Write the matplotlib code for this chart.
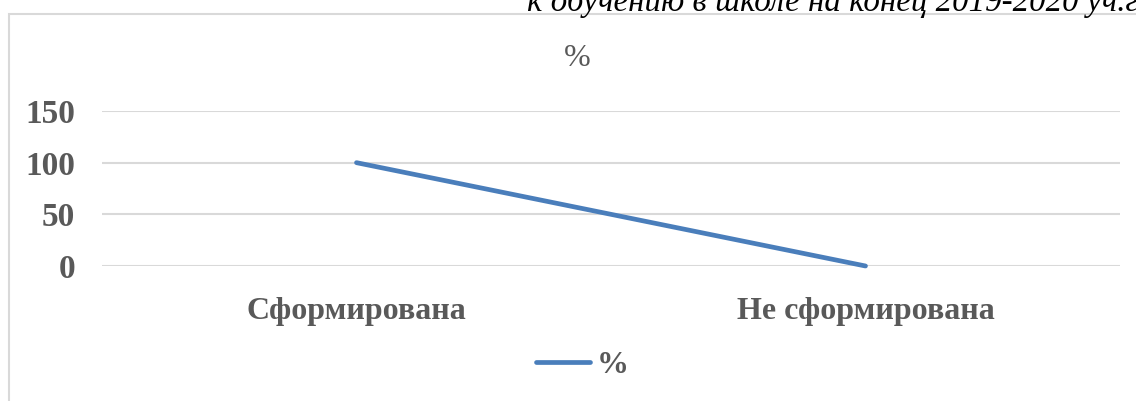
import matplotlib
matplotlib.use('Agg')
import matplotlib.pyplot as plt
from matplotlib.patches import Rectangle

categories = ['Сформирована', 'Не сформирована']
values = [100, 0]
yticks = [0, 50, 100, 150]
series_name = '%'
title = '%'
caption = 'к обучению в школе на конец 2019-2020 уч.год'

W, H = 1136, 401
grey = '#595959'
blue = '#4A7EBB'

plt.rcParams['font.family'] = ['Liberation Serif', 'DejaVu Serif']

fig = plt.figure(figsize=(W / 100, H / 100), dpi=100)

# chart frame (right and bottom edges fall outside the picture)
fig.patches.append(Rectangle((9 / W, -0.1), 1.2, 1 - 13.5 / H + 0.1,
                             transform=fig.transFigure, fill=False,
                             edgecolor='#d9d9d9', linewidth=1.5))

# caption line cut off at the top
fig.text(527 / W, 1 - 11 / H, caption, fontsize=23.8, style='italic',
         color='black', ha='left', va='baseline')

ax = fig.add_axes([102 / W, 1 - 266 / H, (1120 - 102) / W, (266 - 111) / H])
x = list(range(len(categories)))
ax.plot(x, values, color=blue, linewidth=3.4, solid_capstyle='round',
        label=series_name, clip_on=False)
ax.set_xlim(-0.5, len(categories) - 0.5)
ax.set_ylim(0, 150)
ax.set_yticks(yticks)
ax.set_xticks(x)
ax.set_xticklabels(categories)
ax.grid(axis='y', color='#d9d9d9', linewidth=1.5)
ax.set_axisbelow(True)
for s in ax.spines.values():
    s.set_visible(False)
ax.tick_params(length=0)
ax.tick_params(axis='y', pad=19.5)
ax.tick_params(axis='x', pad=22)
for lab in ax.get_yticklabels():
    lab.set_fontsize(24)
for lab in ax.get_yticklabels() + ax.get_xticklabels():
    lab.set_fontweight('bold')
    lab.set_color(grey)
for lab in ax.get_xticklabels():
    lab.set_fontsize(23)

fig.text(577 / W, 1 - 58 / H, title, fontsize=23, color=grey,
         ha='center', va='center')

leg = fig.legend(loc='center', bbox_to_anchor=(582 / W, 1 - 365 / H),
                 frameon=False, handlelength=1.7, handletextpad=0.2,
                 prop={'size': 23, 'weight': 'bold'})
for t in leg.get_texts():
    t.set_color(grey)

fig.savefig('out.png', dpi=100)
